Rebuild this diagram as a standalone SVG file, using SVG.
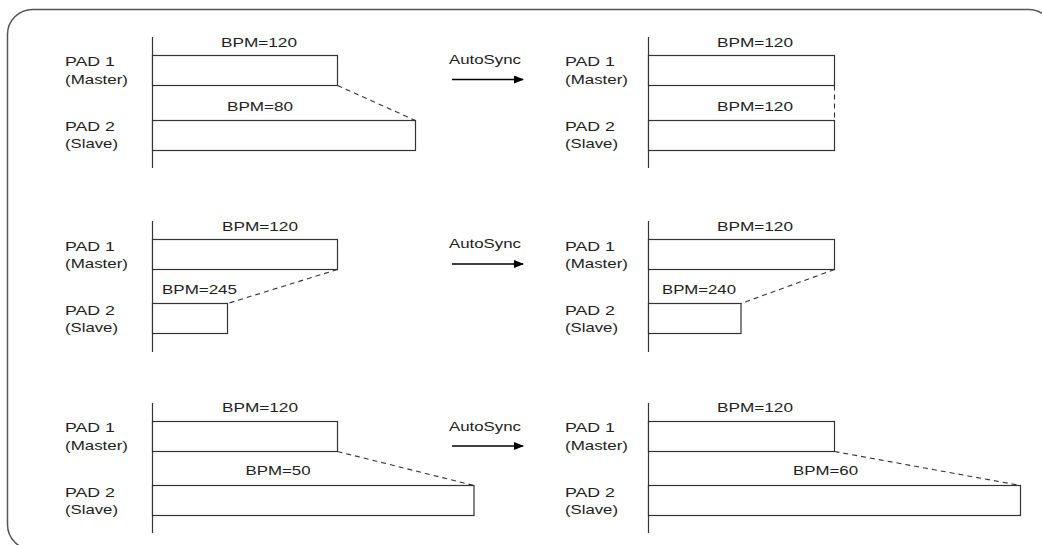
<svg xmlns="http://www.w3.org/2000/svg" width="1042" height="545" viewBox="0 0 1042 545">
  <defs>
    <style>
      text { font-family: "Liberation Sans", Arial, sans-serif; font-size: 13.5px; fill: #222; }
      .bar { fill: #fff; stroke: #333; stroke-width: 1.2; }
      .axis { stroke: #333; stroke-width: 1.2; }
      .dash { stroke: #333; stroke-width: 1.1; stroke-dasharray: 5 4; fill: none; }
      .arrow { stroke: #000; stroke-width: 1.6; marker-end: url(#head); }
      .frame { fill: none; stroke: #555; stroke-width: 1.5; }
    </style>
    <marker id="head" viewBox="0 0 10 8" refX="9" refY="4" markerWidth="10" markerHeight="8" markerUnits="userSpaceOnUse" orient="auto">
      <path d="M0,0 L10,4 L0,8 z" fill="#000"/>
    </marker>
  </defs>
  <rect width="1042" height="545" fill="#fff"/>
  <rect class="frame" x="7.5" y="9.5" width="1046" height="540" rx="25" ry="25"/>

  <!-- Row 1 before -->
  <g id="row1-before">
    <text x="65" y="66" textLength="50" lengthAdjust="spacingAndGlyphs">PAD 1</text>
    <text x="65" y="83.5" textLength="63" lengthAdjust="spacingAndGlyphs">(Master)</text>
    <text x="65" y="130.5" textLength="50" lengthAdjust="spacingAndGlyphs">PAD 2</text>
    <text x="65" y="148" textLength="53" lengthAdjust="spacingAndGlyphs">(Slave)</text>
    <line class="axis" x1="152.5" y1="37" x2="152.5" y2="168"/>
    <rect class="bar" x="152.5" y="55.5" width="185" height="30"/>
    <rect class="bar" x="152.5" y="120.5" width="263" height="30"/>
    <text x="221" y="47" textLength="76" lengthAdjust="spacingAndGlyphs">BPM=120</text>
    <text x="227" y="110.5" textLength="66" lengthAdjust="spacingAndGlyphs">BPM=80</text>
    <line class="dash" x1="337.5" y1="85.5" x2="415.5" y2="120.5"/>
  </g>

  <!-- Row 1 after -->
  <g id="row1-after">
    <text x="565" y="66" textLength="50" lengthAdjust="spacingAndGlyphs">PAD 1</text>
    <text x="565" y="83.5" textLength="63" lengthAdjust="spacingAndGlyphs">(Master)</text>
    <text x="565" y="130.5" textLength="50" lengthAdjust="spacingAndGlyphs">PAD 2</text>
    <text x="565" y="148" textLength="53" lengthAdjust="spacingAndGlyphs">(Slave)</text>
    <line class="axis" x1="648.5" y1="37" x2="648.5" y2="168"/>
    <rect class="bar" x="648.5" y="55.5" width="186" height="30"/>
    <rect class="bar" x="648.5" y="120.5" width="186" height="30"/>
    <text x="717" y="47" textLength="76" lengthAdjust="spacingAndGlyphs">BPM=120</text>
    <text x="717" y="110.5" textLength="76" lengthAdjust="spacingAndGlyphs">BPM=120</text>
    <line class="dash" x1="834.5" y1="85.5" x2="834.5" y2="120.5"/>
  </g>

  <!-- Row 2 before -->
  <g id="row2-before">
    <text x="65" y="250.5" textLength="50" lengthAdjust="spacingAndGlyphs">PAD 1</text>
    <text x="65" y="268" textLength="63" lengthAdjust="spacingAndGlyphs">(Master)</text>
    <text x="65" y="314.5" textLength="50" lengthAdjust="spacingAndGlyphs">PAD 2</text>
    <text x="65" y="332" textLength="53" lengthAdjust="spacingAndGlyphs">(Slave)</text>
    <line class="axis" x1="152.5" y1="221" x2="152.5" y2="352"/>
    <rect class="bar" x="152.5" y="239.5" width="185" height="30"/>
    <rect class="bar" x="152.5" y="303.5" width="75" height="30"/>
    <text x="222" y="230.5" textLength="76" lengthAdjust="spacingAndGlyphs">BPM=120</text>
    <text x="162" y="293.5" textLength="75" lengthAdjust="spacingAndGlyphs">BPM=245</text>
    <line class="dash" x1="337.5" y1="269.5" x2="227.5" y2="303.5"/>
  </g>

  <!-- Row 2 after -->
  <g id="row2-after">
    <text x="565" y="250.5" textLength="50" lengthAdjust="spacingAndGlyphs">PAD 1</text>
    <text x="565" y="268" textLength="63" lengthAdjust="spacingAndGlyphs">(Master)</text>
    <text x="565" y="314.5" textLength="50" lengthAdjust="spacingAndGlyphs">PAD 2</text>
    <text x="565" y="332" textLength="53" lengthAdjust="spacingAndGlyphs">(Slave)</text>
    <line class="axis" x1="648.5" y1="221" x2="648.5" y2="352"/>
    <rect class="bar" x="648.5" y="239.5" width="186" height="30"/>
    <rect class="bar" x="648.5" y="303.5" width="92.5" height="30"/>
    <text x="717" y="230.5" textLength="76" lengthAdjust="spacingAndGlyphs">BPM=120</text>
    <text x="662" y="293.5" textLength="74" lengthAdjust="spacingAndGlyphs">BPM=240</text>
    <line class="dash" x1="834.5" y1="269.5" x2="741" y2="303.5"/>
  </g>

  <!-- Row 3 before -->
  <g id="row3-before">
    <text x="65" y="432" textLength="50" lengthAdjust="spacingAndGlyphs">PAD 1</text>
    <text x="65" y="449.5" textLength="63" lengthAdjust="spacingAndGlyphs">(Master)</text>
    <text x="65" y="496.5" textLength="50" lengthAdjust="spacingAndGlyphs">PAD 2</text>
    <text x="65" y="514" textLength="53" lengthAdjust="spacingAndGlyphs">(Slave)</text>
    <line class="axis" x1="152.5" y1="403" x2="152.5" y2="533"/>
    <rect class="bar" x="152.5" y="421.5" width="185" height="30"/>
    <rect class="bar" x="152.5" y="485.5" width="321.5" height="30"/>
    <text x="222" y="412" textLength="76" lengthAdjust="spacingAndGlyphs">BPM=120</text>
    <text x="245.5" y="475" textLength="65" lengthAdjust="spacingAndGlyphs">BPM=50</text>
    <line class="dash" x1="337.5" y1="451.5" x2="474" y2="485.5"/>
  </g>

  <!-- Row 3 after -->
  <g id="row3-after">
    <text x="565" y="432" textLength="50" lengthAdjust="spacingAndGlyphs">PAD 1</text>
    <text x="565" y="449.5" textLength="63" lengthAdjust="spacingAndGlyphs">(Master)</text>
    <text x="565" y="496.5" textLength="50" lengthAdjust="spacingAndGlyphs">PAD 2</text>
    <text x="565" y="514" textLength="53" lengthAdjust="spacingAndGlyphs">(Slave)</text>
    <line class="axis" x1="648.5" y1="403" x2="648.5" y2="533"/>
    <rect class="bar" x="648.5" y="421.5" width="186" height="30"/>
    <rect class="bar" x="648.5" y="485.5" width="372" height="30"/>
    <text x="717" y="412" textLength="76" lengthAdjust="spacingAndGlyphs">BPM=120</text>
    <text x="793" y="475" textLength="65" lengthAdjust="spacingAndGlyphs">BPM=60</text>
    <line class="dash" x1="834.5" y1="451.5" x2="1020.5" y2="485.5"/>
  </g>

  <!-- AutoSync connectors -->
  <g id="connectors">
    <text x="449" y="63.5" textLength="72" lengthAdjust="spacingAndGlyphs">AutoSync</text>
    <line class="arrow" x1="452" y1="79.5" x2="523" y2="79.5"/>
    <text x="449" y="248" textLength="72" lengthAdjust="spacingAndGlyphs">AutoSync</text>
    <line class="arrow" x1="452" y1="264" x2="523" y2="264"/>
    <text x="449" y="431" textLength="72" lengthAdjust="spacingAndGlyphs">AutoSync</text>
    <line class="arrow" x1="452" y1="446" x2="523" y2="446"/>
  </g>
</svg>
